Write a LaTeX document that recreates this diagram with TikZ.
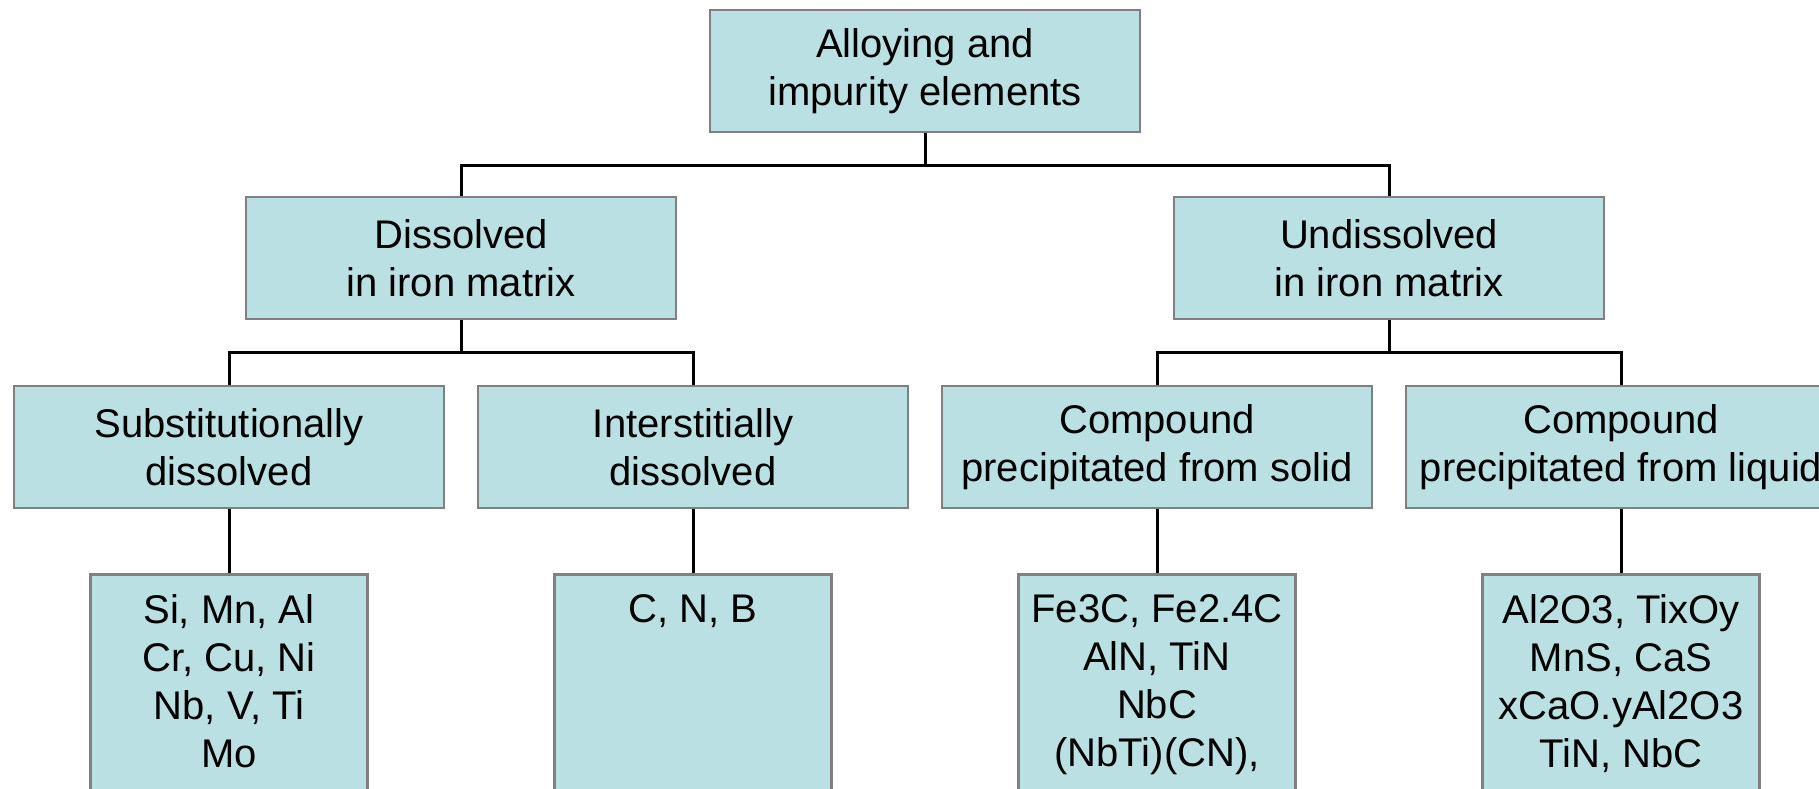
\documentclass[tikz,border=0pt]{standalone}
\usepackage{fontspec}
\setmainfont{Liberation Sans}
\definecolor{boxfill}{RGB}{187,224,227}
\definecolor{boxline}{RGB}{128,128,128}
\begin{document}
\begin{tikzpicture}[x=1bp,y=-1bp,
  box/.style={draw=boxline,fill=boxfill,line width=2.5bp,minimum width=430bp,minimum height=122bp,
    inner sep=0pt,align=center,font=\fontsize{40bp}{48bp}\selectfont},
  leaf/.style={draw=boxline,fill=boxfill,line width=2.5bp,minimum width=277bp,minimum height=260bp,
    inner sep=0pt,anchor=north},
  leaftext/.style={inner sep=0pt,anchor=north,align=center,font=\fontsize{40bp}{48bp}\selectfont},
  conn/.style={draw=black,line width=3bp}]
\useasboundingbox (0,0) rectangle (1819,789);
\clip (0,0) rectangle (1819,789);
% level 1
\node[box] (root) at (925,71) {Alloying and\\impurity elements};
% level 2
\node[box] (dis) at (461,258) {Dissolved\\in iron matrix};
\node[box] (und) at (1389,258) {Undissolved\\in iron matrix};
% level 3
\node[box] (sub) at (229,447) {Substitutionally\\dissolved};
\node[box] (int) at (693,447) {Interstitially\\dissolved};
\node[box] (sol) at (1157,447) {Compound\\precipitated from solid};
\node[box] (liq) at (1621,447) {Compound\\precipitated from liquid};
% level 4
\node[leaf] (subl) at (229,573) {};
\node[leaf] (intl) at (693,573) {};
\node[leaf] (soll) at (1157,573) {};
\node[leaf] (liql) at (1621,573) {};
\node[leaftext] (subt) at (229,594) {Si, Mn, Al\\Cr, Cu, Ni\\Nb, V, Ti\\Mo};
\node[leaftext] (intt) at (693,594) {C, N, B};
\node[leaftext] (solt) at (1157,594) {Fe3C, Fe2.4C\\AlN, TiN\\NbC\\(NbTi)(CN),};
\node[leaftext] (liqt) at (1621,594) {Al2O3, TixOy\\MnS, CaS\\xCaO.yAl2O3\\TiN, NbC};
% connectors
\draw[conn] (root.south) -- ++(0,32) -| (dis.north);
\draw[conn] (root.south) -- ++(0,32) -| (und.north);
\draw[conn] (dis.south) -- ++(0,32.5) -| (sub.north);
\draw[conn] (dis.south) -- ++(0,32.5) -| (int.north);
\draw[conn] (und.south) -- ++(0,32.5) -| (sol.north);
\draw[conn] (und.south) -- ++(0,32.5) -| (liq.north);
\draw[conn] (sub.south) -- (subl.north);
\draw[conn] (int.south) -- (intl.north);
\draw[conn] (sol.south) -- (soll.north);
\draw[conn] (liq.south) -- (liql.north);
\end{tikzpicture}
\end{document}
